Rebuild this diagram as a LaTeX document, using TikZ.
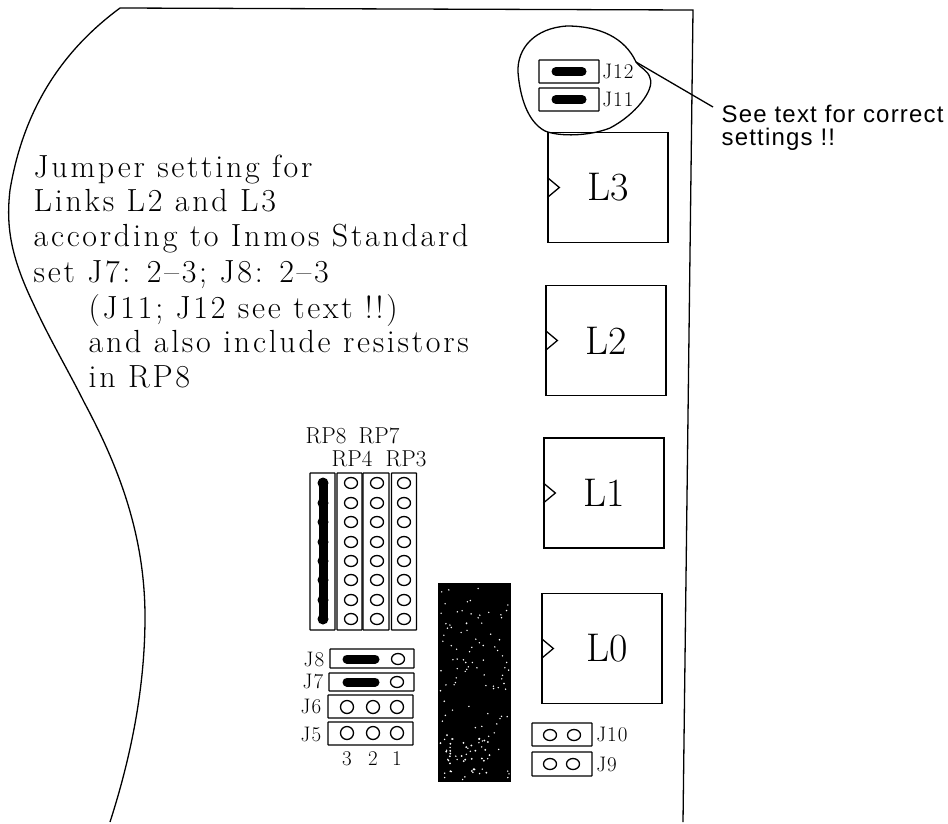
\documentclass[tikz,border=0pt]{standalone}
\usepackage{fontspec}
\newfontfamily\notefont[LetterSpace=5]{Liberation Sans}
\newfontfamily\bodyfont[LetterSpace=8.5,Ligatures=TeX]{Latin Modern Roman}
\newfontfamily\tagfont[LetterSpace=5]{Latin Modern Roman}
\usetikzlibrary{positioning}
\usetikzlibrary{shapes.geometric}

\begin{document}
\begin{tikzpicture}[x=1pt,y=-1pt,line width=1.3pt]
			\tikzstyle{LinkStyle}  = [draw, inner sep=0pt, minimum width=120pt, minimum height=110pt, font=\fontsize{40}{40}\selectfont]
			\tikzstyle{PinStyle}   = [shape = ellipse, draw, inner sep=0pt, minimum width=13pt, minimum height=11pt]
			\tikzstyle{BoxStyle}   = [draw, inner sep=0pt, rounded corners=0.5pt]
			\tikzstyle{BarStyle}   = [line width=9pt, line cap=round]
			\tikzstyle{TagStyle}   = [inner sep=0pt, font=\tagfont\fontsize{21}{21}\selectfont]
			\tikzstyle{BodyStyle}  = [anchor=base west, inner sep=0pt, font=\bodyfont\fontsize{32}{32}\selectfont]
			\useasboundingbox (0,0) rectangle (948,823);
			%\draw[help lines] (0,0) grid (948,823);

			% board outline
			\draw (683,822) -- (693,10) -- (120,8)
				.. controls (70,45) and (25,100) .. (10,190)
				.. controls (6,225) and (10,255) .. (33,303)
				.. controls (50,340) and (68,370) .. (84,402)
				.. controls (115,460) and (145,530) .. (145,617)
				.. controls (145,690) and (130,760) .. (110,822);

			% links
			\node[LinkStyle] (L3) at (608,187.5) {L3};
			\node[LinkStyle] (L2) at (606,340.5) {L2};
			\node[LinkStyle] (L1) at (604,493) {L1};
			\node[LinkStyle] (L0) at (602,648.5) {\hspace*{10pt}L0};
			\foreach \l in {L0,L1,L2,L3}
				\draw ([yshift=-10pt]\l.west) -- ([xshift=12pt]\l.west) -- ([yshift=10pt]\l.west);

			% text
			\foreach \x/\y/\t in {33/177/Jumper setting for, 33/211/Links L2 and L3, 33/246/according to Inmos Standard,
				33/282/set J7: 2--3; J8: 2--3, 88/318/(J11; J12 see text !!), 88/352/and also include resistors, 88/387/in RP8}
				\node[BodyStyle] (line\y) at (\x,\y) {\t};

			% J11, J12 and the remark
			\node[BoxStyle, minimum width=60pt, minimum height=23pt] (J12) at (569,71.5) {};
			\node[BoxStyle, minimum width=60pt, minimum height=23pt] (J11) at (569,99.5) {};
			\draw[BarStyle] ([xshift=-13pt]J12.center) -- ([xshift=13pt]J12.center);
			\draw[BarStyle] ([xshift=-13pt]J11.center) -- ([xshift=13pt]J11.center);
			\node[TagStyle, right=2pt of J12] (J12t) {J12};
			\node[TagStyle, right=2pt of J11] (J11t) {J11};
			\coordinate (tip) at (636,62);
			\draw (tip) .. controls (625,38) and (600,26) .. (567,26)
				.. controls (535,28) and (517,48) .. (518,72)
				.. controls (520,98) and (528,122) .. (545,131)
				.. controls (560,137) and (590,136) .. (610,128)
				.. controls (635,115) and (655,90) .. (650,78)
				.. controls (648,70) and (640,68) .. (tip);
			\node[anchor=base west, inner sep=0pt, align=left, font=\notefont\fontsize{24}{23}\selectfont] (note) at (721,145) {See text for correct\\settings !!};
			\coordinate (noteend) at (713,107);
			\draw (tip) -- (noteend);

			% resistor packs
			\node[BoxStyle, minimum width=25pt, minimum height=157pt] (RP8) at (322.5,551.5) {};
			\node[BoxStyle, minimum width=25pt, minimum height=157pt] (RP4) at (349.5,551.5) {};
			\node[BoxStyle, minimum width=26pt, minimum height=157pt] (RP7) at (376,551.5) {};
			\node[BoxStyle, minimum width=25pt, minimum height=157pt] (RP3) at (404,551.5) {};
			\foreach \y in {483,503,522,542,561,580,600,619} {
				\node[PinStyle] (a\y) at (351,\y) {};
				\node[PinStyle] (b\y) at (377,\y) {};
				\node[PinStyle] (c\y) at (404,\y) {};
				\fill (323,\y) circle (5.5pt);
			}
			\draw[BarStyle] (323,483) -- (323,619);
			\node[TagStyle, font=\fontsize{23}{23}\selectfont] (RP8t) at (326,436) {RP8};
			\node[TagStyle, font=\fontsize{23}{23}\selectfont] (RP7t) at (379,436) {RP7};
			\node[TagStyle, font=\fontsize{23}{23}\selectfont] (RP4t) at (352,459) {RP4};
			\node[TagStyle, font=\fontsize{23}{23}\selectfont] (RP3t) at (406,459) {RP3};

			% J5 to J8
			\node[BoxStyle, minimum width=84pt, minimum height=19pt] (J8) at (372,658.5) {};
			\node[BoxStyle, minimum width=85pt, minimum height=18pt] (J7) at (371.5,682) {};
			\node[BoxStyle, minimum width=85pt, minimum height=23pt] (J6) at (370.5,706.5) {};
			\node[BoxStyle, minimum width=85pt, minimum height=23pt] (J5) at (370.5,733.5) {};
			\draw[BarStyle] (347,659) -- (375,659);
			\draw[BarStyle] (347,682) -- (375,682);
			\node[PinStyle] (p8) at (398,659) {};
			\node[PinStyle] (p7) at (397,682) {};
			\foreach \x/\n in {347/3,373/2,397/1} {
				\node[PinStyle, minimum height=13pt] (q\n) at (\x,707) {};
				\node[PinStyle, minimum height=13pt] (r\n) at (\x,733) {};
				\node[TagStyle] (n\n) at (\x,759) {\n};
			}
			\node[TagStyle] (J8t) at (314,659) {J8};
			\node[TagStyle] (J7t) at (313,681) {J7};
			\node[TagStyle] (J6t) at (311,706) {J6};
			\node[TagStyle] (J5t) at (311,734) {J5};

			% J9, J10
			\node[BoxStyle, minimum width=60pt, minimum height=23pt] (J10) at (562,734.5) {};
			\node[BoxStyle, minimum width=60pt, minimum height=24pt] (J9) at (562,764) {};
			\node[PinStyle] (p10a) at (550,735) {};
			\node[PinStyle] (p10b) at (574,735) {};
			\node[PinStyle] (p9a) at (550,764) {};
			\node[PinStyle] (p9b) at (573,764) {};
			\node[TagStyle, right=3pt of J10] (J10t) {J10};
			\node[TagStyle, right=3pt of J9] (J9t) {J9};

			% black chip
			\fill (438,583) rectangle (511,782);
			\pgfmathsetseed{42}
			\foreach \i in {1,...,110} {
				\pgfmathsetmacro{\sx}{440+69*rnd}
				\pgfmathsetmacro{\sy}{585+195*rnd}
				\fill[white] (\sx,\sy) circle (0.8pt);
			}
			\foreach \i in {1,...,30} {
				\pgfmathsetmacro{\sx}{440+50*rnd}
				\pgfmathsetmacro{\sy}{735+38*rnd}
				\fill[white] (\sx,\sy) circle (1pt);
			}
		\end{tikzpicture}
\end{document}
